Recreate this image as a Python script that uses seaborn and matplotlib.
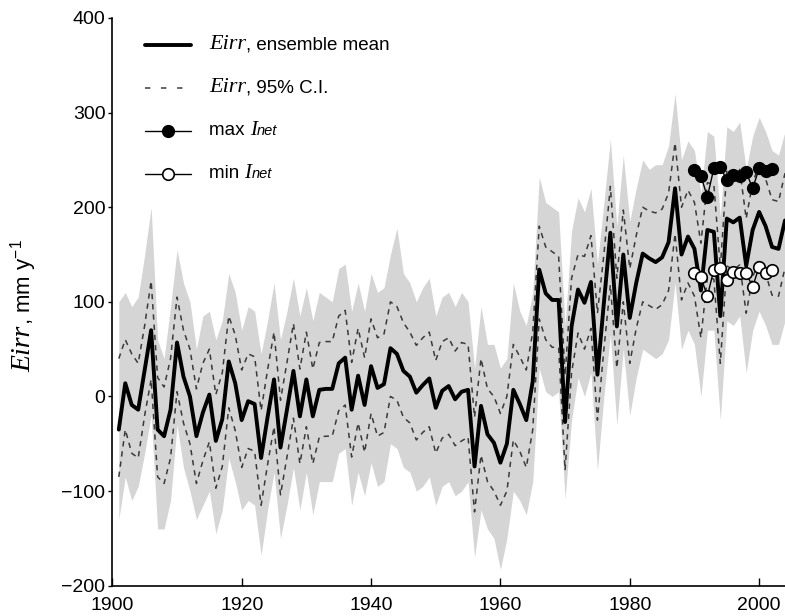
import matplotlib
matplotlib.use("Agg")
import matplotlib.pyplot as plt
import seaborn as sns
import pandas as pd
from matplotlib.lines import Line2D
from matplotlib.offsetbox import (AnchoredOffsetbox, DrawingArea, HPacker,
                                  TextArea, VPacker)

# ---- data -------------------------------------------------------------
years = list(range(1901, 2005))

e_mean = [
    -35, 14, -9, -14, 28, 70, -35, -42, -14, 57,
    21, 0, -42, -17, 2, -47, -24, 37, 14, -25,
    -5, -8, -65, -22, 18, -54, -14, 27, -21, 18,
    -21, 7, 8, 8, 35, 41, -14, 22, -9, 32,
    9, 13, 51, 45, 27, 21, 4, 12, 19, -12,
    6, 11, -3, 5, 7, -74, -10, -40, -49, -70,
    -50, 7, -8, -25, 16, 134, 109, 102, 102, -27,
    74, 113, 99, 121, 23, 99, 173, 74, 150, 83,
    120, 151, 146, 142, 147, 163, 220, 150, 169, 156,
    112, 176, 174, 85, 188, 184, 189, 138, 176, 195,
    180, 158, 156, 186,
]

e_ci_hi = [
    40, 60, 45, 35, 75, 122, 20, 10, 40, 105,
    70, 50, 8, 35, 50, 2, 25, 85, 65, 28,
    45, 42, -15, 28, 68, -4, 36, 77, 29, 68,
    29, 57, 58, 58, 85, 91, 36, 72, 41, 82,
    62, 66, 100, 95, 78, 68, 54, 62, 68, 38,
    58, 62, 48, 57, 55, -22, 40, 8, 0, -18,
    0, 55, 42, 28, 68, 180, 158, 153, 148, 22,
    125, 150, 148, 170, 88, 150, 222, 125, 197, 135,
    170, 200, 196, 194, 198, 215, 268, 200, 218, 205,
    162, 226, 224, 136, 238, 234, 240, 188, 226, 245,
    230, 208, 206, 236,
]

e_ci_lo = [
    -85, -35, -60, -65, -20, 18, -85, -92, -65, 5,
    -28, -50, -92, -68, -48, -97, -74, -12, -36, -75,
    -55, -58, -115, -72, -32, -104, -64, -23, -71, -32,
    -71, -43, -42, -42, -15, -9, -64, -28, -59, -18,
    -42, -38, 0, -4, -22, -28, -46, -38, -32, -60,
    -44, -40, -52, -47, -43, -122, -62, -90, -100, -115,
    -100, -46, -58, -75, -35, 82, 60, 52, 52, -78,
    25, 67, 50, 72, -25, 50, 118, 30, 100, 35,
    72, 100, 96, 92, 97, 112, 172, 102, 120, 106,
    62, 126, 124, 35, 138, 134, 139, 88, 126, 145,
    130, 107, 106, 136,
]

# envelope of the individual ensemble members
spread_hi = [
    100, 110, 95, 105, 150, 200, 60, 40, 95, 155,
    120, 100, 50, 85, 90, 60, 80, 130, 110, 70,
    95, 90, 45, 80, 120, 60, 90, 125, 85, 115,
    80, 110, 105, 100, 135, 140, 90, 120, 90, 130,
    110, 115, 150, 178, 130, 120, 100, 115, 125, 85,
    105, 110, 95, 110, 100, 30, 95, 55, 55, 30,
    40, 120, 90, 75, 110, 232, 205, 200, 195, 75,
    175, 210, 195, 220, 140, 205, 272, 180, 255, 185,
    220, 250, 240, 245, 245, 265, 320, 250, 270, 260,
    215, 280, 275, 190, 285, 280, 290, 240, 275, 295,
    280, 260, 255, 280,
]

spread_lo = [
    -130, -85, -110, -95, -60, -20, -140, -140, -110, -30,
    -75, -100, -130, -115, -100, -145, -120, -65, -90, -120,
    -110, -115, -168, -120, -80, -150, -115, -75, -120, -80,
    -125, -90, -90, -90, -60, -55, -115, -80, -105, -70,
    -95, -90, -50, -55, -75, -80, -100, -95, -85, -115,
    -95, -90, -105, -100, -90, -170, -120, -140, -150, -183,
    -150, -100, -110, -125, -90, 30, 5, 0, 5, -108,
    -25, 20, 0, 25, -78, 0, 65, -30, 50, -20,
    20, 50, 45, 40, 45, 60, 120, 50, 70, 55,
    0, 70, 70, -25, 80, 75, 85, 25, 70, 90,
    75, 55, 55, 80,
]

inet_years = list(range(1990, 2003))
inet_max = [239, 233, 211, 241, 242, 229, 234, 233, 237, 220, 241, 238, 240]
inet_min = [131, 126, 106, 134, 136, 123, 132, 131, 130, 116, 137, 131, 134]

x_ticks = [1900, 1920, 1940, 1960, 1980, 2000]
y_ticks = [-200, -100, 0, 100, 200, 300, 400]

# ---- style ------------------------------------------------------------
sns.set_theme(style="ticks")
plt.rcParams["font.family"] = ["Liberation Sans", "DejaVu Sans"]
plt.rcParams["mathtext.fontset"] = "custom"
plt.rcParams["mathtext.rm"] = "Liberation Sans"
plt.rcParams["axes.linewidth"] = 1.2

SERIF_IT = dict(family="Liberation Serif", style="italic", color="black")
SANS = dict(family="Liberation Sans", color="black")
SANS_IT = dict(family="Liberation Sans", style="italic", color="black")

fig = plt.figure(figsize=(7.85, 6.16), dpi=100)
ax = fig.add_axes([0.1431, 0.0492, 0.8569, 0.9216])

df = pd.DataFrame({"year": years, "mean": e_mean, "hi": e_ci_hi, "lo": e_ci_lo})
inet = pd.DataFrame({"year": inet_years, "max": inet_max, "min": inet_min})

CI_COLOR = "#3a3a3a"
DASH = (0, (3.5, 3.2))
MEAN_LW = 2.8
MS = 8.3

# ensemble spread
ax.fill_between(years, spread_lo, spread_hi, color="#d5d5d5", lw=0, zorder=1)

sns.lineplot(data=df, x="year", y="hi", ax=ax, color=CI_COLOR, lw=1.1,
             linestyle=DASH, zorder=2, legend=False)
sns.lineplot(data=df, x="year", y="lo", ax=ax, color=CI_COLOR, lw=1.1,
             linestyle=DASH, zorder=2, legend=False)
sns.lineplot(data=df, x="year", y="mean", ax=ax, color="black", lw=MEAN_LW,
             zorder=3, legend=False)
sns.lineplot(data=inet, x="year", y="max", ax=ax, color="black", lw=1.0,
             marker="o", ms=MS, mfc="black", mec="black", mew=1.2,
             zorder=4, legend=False)
sns.lineplot(data=inet, x="year", y="min", ax=ax, color="black", lw=1.0,
             marker="o", ms=MS, mfc="white", mec="black", mew=1.2,
             zorder=4, legend=False)

ax.set_xlim(1900, 2004)
ax.set_ylim(-200, 400)
ax.set_xticks(x_ticks)
ax.set_yticks(y_ticks)
ax.tick_params(axis="x", direction="in", length=6, width=1.0, pad=8.5,
               labelsize=14, colors="black")
ax.tick_params(axis="y", direction="out", length=3, width=1.0, pad=2,
               labelsize=14, colors="black")
sns.despine(ax=ax)
for s in ("left", "bottom"):
    ax.spines[s].set_color("black")
ax.set_xlabel("")
ax.set_ylabel("")

# ---- y axis label: serif italic symbol followed by sans units ----------
sym = ax.text(-0.1223, 0.377, "Eirr", transform=ax.transAxes, rotation=90,
              rotation_mode="anchor", ha="left", va="baseline",
              fontsize=20, **SERIF_IT)
ax.annotate(r", mm y$^{\mathrm{-1}}$", xy=(-0.1223, 1.0),
            xycoords=(ax.transAxes, sym), rotation=90,
            rotation_mode="anchor", ha="left", va="baseline",
            fontsize=16, annotation_clip=False, **SANS)


# ---- legend -----------------------------------------------------------
def handle(**line_kw):
    da = DrawingArea(33, 14, 0, 0)
    da.add_artist(Line2D([0, 16.5, 33], [7, 7, 7], markevery=[1], **line_kw))
    return da


def label(parts):
    boxes = [TextArea(txt, textprops=props) for txt, props in parts]
    return HPacker(children=boxes, align="baseline", pad=0, sep=0)


rows = [
    (handle(color="black", lw=MEAN_LW),
     [("Eirr", dict(fontsize=16, **SERIF_IT)),
      (", ensemble mean", dict(fontsize=13.5, **SANS))]),
    (handle(color=CI_COLOR, lw=1.1, linestyle=(0, (3.5, 7))),
     [("Eirr", dict(fontsize=16, **SERIF_IT)),
      (", 95% C.I.", dict(fontsize=13.5, **SANS))]),
    (handle(color="black", lw=1.0, marker="o", ms=MS, mfc="black",
            mec="black", mew=1.2),
     [("max ", dict(fontsize=13.5, **SANS)),
      ("I", dict(fontsize=15, **SERIF_IT)),
      ("net", dict(fontsize=10.5, **SANS_IT))]),
    (handle(color="black", lw=1.0, marker="o", ms=MS, mfc="white",
            mec="black", mew=1.2),
     [("min ", dict(fontsize=13.5, **SANS)),
      ("I", dict(fontsize=15, **SERIF_IT)),
      ("net", dict(fontsize=10.5, **SANS_IT))]),
]

row_boxes = [HPacker(children=[h, label(p)], align="center", pad=0, sep=13)
             for h, p in rows]
legend_box = VPacker(children=row_boxes, align="left", pad=0, sep=17)
anchored = AnchoredOffsetbox(loc="upper left", child=legend_box, pad=0,
                             borderpad=0, frameon=False,
                             bbox_to_anchor=(0.0486, 0.970),
                             bbox_transform=ax.transAxes)
ax.add_artist(anchored)

fig.savefig("out.png", dpi=100, facecolor="white")
